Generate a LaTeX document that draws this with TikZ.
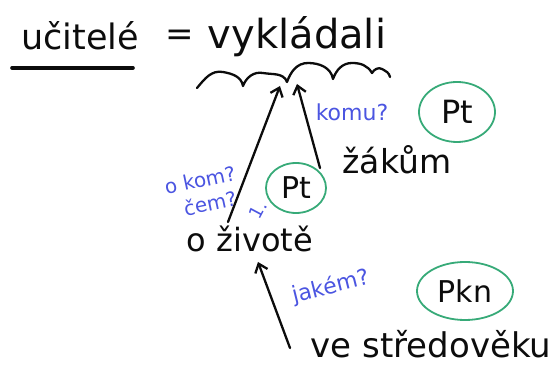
\documentclass[tikz,border=0pt]{standalone}
\usepackage{fontspec}
\setmainfont{DejaVu Sans}
\usetikzlibrary{arrows.meta,shapes.geometric}
\definecolor{ink}{RGB}{12,12,12}
\definecolor{pen}{RGB}{75,85,225}
\definecolor{ring}{RGB}{55,170,120}
\begin{document}
\begin{tikzpicture}[x=1pt,y=-1pt,
  word/.style={text=ink, inner sep=0pt, anchor=center},
  note/.style={text=pen, inner sep=0pt, anchor=center, font=\fontsize{20}{21}\selectfont},
  tagring/.style={draw=ring, line width=1.8pt, ellipse, inner sep=0pt, text=ink},
  stroke/.style={draw=ink, line width=2.3pt, line cap=round, line join=round},
  arr/.style={stroke, -{Straight Barb[length=8pt,width=13pt,line width=2.3pt]}}]
\useasboundingbox (0,0) rectangle (558,371);
% top line
\node[word, font=\fontsize{35}{36}\selectfont] (subj) at (80,36) {učitelé};
\draw[stroke, line width=3.6pt] (12,68) -- (133,68);
\node[word, font=\fontsize{34}{36}\selectfont] (eq) at (180,38) {=};
\node[word, font=\fontsize{40}{42}\selectfont] (pred) at (297,37) {vykládali};
% wavy underline
\coordinate (w0) at (197,88);
\coordinate (w1) at (243,86);
\coordinate (w2) at (287,82);
\coordinate (w3) at (333,79);
\coordinate (w4) at (372,73);
\coordinate (w5) at (390,77);
\draw[stroke] (w0) to[out=50,in=170] (223,72) to[out=-10,in=100] (w1)
  to[out=70,in=170] (263,73) to[out=-10,in=110] (w2)
  to[out=70,in=180] (308,63) to[out=0,in=100] (w3)
  to[out=70,in=180] (352,63) to[out=0,in=120] (w4)
  to[out=60,in=150] (382,69) to[out=-30,in=100] (w5);
\coordinate (h1) at (280,86);
\coordinate (h2) at (297,84);
% objects
\node[word, font=\fontsize{33}{35}\selectfont] (dat) at (397,160) {žákům};
\node[word, font=\fontsize{32}{34}\selectfont] (loc) at (250,239) {o životě};
\node[word, font=\fontsize{34}{36}\selectfont] (attr) at (431,344) {ve středověku};
% questions
\node[note, font=\fontsize{22}{24}\selectfont] (q1) at (352,112) {komu?};
\node[note, rotate=12] (q2a) at (200,180) {o kom?};
\node[note, rotate=12] (q2b) at (210,203) {čem?};
\node[note, font=\fontsize{18}{19}\selectfont, rotate=62] (n1) at (258,210) {1.};
\node[note, font=\fontsize{22}{24}\selectfont, rotate=14] (q3) at (331,287) {jakém?};
% tags
\node[tagring, minimum width=76pt, minimum height=60pt, font=\fontsize{32}{34}\selectfont] (t1) at (457,112) {Pt};
\node[tagring, minimum width=60pt, minimum height=50pt, font=\fontsize{30}{32}\selectfont] (t2) at (296,188) {Pt};
\node[tagring, minimum width=96pt, minimum height=58pt, font=\fontsize{30}{32}\selectfont] (t3) at (465,291) {Pkn};
% arrows
\coordinate (s1) at (228,222);
\coordinate (s2) at (320,168);
\coordinate (s3) at (290,348);
\coordinate (e3) at (258,262);
\draw[arr] (s1) -- (h1);
\draw[arr] (s2) -- (h2);
\draw[arr] (s3) -- (e3);
\end{tikzpicture}
\end{document}
